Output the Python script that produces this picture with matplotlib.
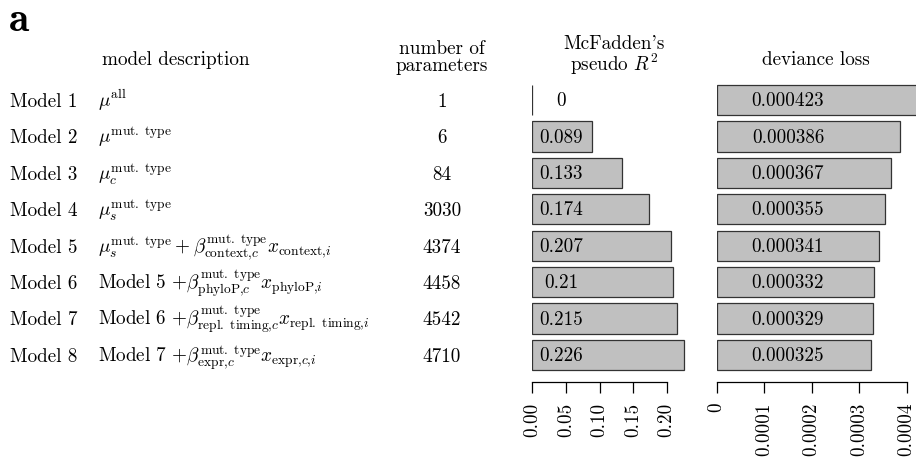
import matplotlib
matplotlib.use("Agg")
import matplotlib.pyplot as plt

plt.rcParams["font.family"] = ["cmr10"]
plt.rcParams["mathtext.fontset"] = "cm"
plt.rcParams["axes.unicode_minus"] = False
plt.rcParams["axes.formatter.use_mathtext"] = True

# ---- data -------------------------------------------------------------
models = [f"Model {i}" for i in range(1, 9)]
descriptions = [
    r"$\mu^{\mathrm{all}}$",
    r"$\mu^{\mathrm{mut.\ type}}$",
    r"$\mu_c^{\mathrm{mut.\ type}}$",
    r"$\mu_s^{\mathrm{mut.\ type}}$",
    r"$\mu_s^{\mathrm{mut.\ type}} + \beta_{\mathrm{context}{,}c}^{\mathrm{mut.\ type}} x_{\mathrm{context}{,}i}$",
    r"Model 5 ${+}\beta_{\mathrm{phyloP}{,}c}^{\mathrm{mut.\ type}} x_{\mathrm{phyloP}{,}i}$",
    r"Model 6 ${+}\beta_{\mathrm{repl.\ timing}{,}c}^{\mathrm{mut.\ type}} x_{\mathrm{repl.\ timing}{,}i}$",
    r"Model 7 ${+}\beta_{\mathrm{expr}{,}c}^{\mathrm{mut.\ type}} x_{\mathrm{expr}{,}c{,}i}$",
]
n_params = [1, 6, 84, 3030, 4374, 4458, 4542, 4710]
pseudo_r2 = [0, 0.089, 0.133, 0.174, 0.207, 0.21, 0.215, 0.226]
deviance = [0.000423, 0.000386, 0.000367, 0.000355, 0.000341, 0.000332, 0.000329, 0.000325]

r2_ticks = [0.0, 0.05, 0.10, 0.15, 0.20]
r2_ticklabels = ["0.00", "0.05", "0.10", "0.15", "0.20"]
dev_ticks = [0, 0.0001, 0.0002, 0.0003, 0.0004]
dev_ticklabels = ["0", "0.0001", "0.0002", "0.0003", "0.0004"]

# ---- layout (pixels) ----------------------------------------------------
W, H = 916, 465
FS = 13.8
row_top, row_step = 100.0, 36.43
n = len(models)


def P(x, y):
    return x / W, 1 - y / H


fig = plt.figure(figsize=(W / 100, H / 100), dpi=100)

fig.text(*P(9, 31), "a", fontfamily="cmb10", fontsize=30, ha="left", va="baseline")

# column headers (two-line headers are anchored on the baseline of their last line)
fig.text(*P(176, 65), "model description", fontsize=FS, ha="center", va="baseline")
fig.text(*P(442, 71), "number of\nparameters", fontsize=FS, ha="center",
         va="baseline", linespacing=0.92)
fig.text(*P(614, 71), "McFadden's\n" + r"pseudo $R^2$", fontsize=FS, ha="center",
         va="baseline", linespacing=0.92)
fig.text(*P(816, 65), "deviance loss", fontsize=FS, ha="center", va="baseline")

# table rows
for i, (m, d, k) in enumerate(zip(models, descriptions, n_params)):
    yb = row_top + i * row_step + 6.8
    fig.text(*P(10, yb), m, fontsize=FS, ha="left", va="baseline")
    fig.text(*P(98, yb), d, fontsize=FS, ha="left", va="baseline")
    fig.text(*P(442, yb), str(k), fontsize=FS, ha="center", va="baseline")

# bar panels
ax_top = row_top - row_step / 2
ax_bot = row_top + (n - 0.5) * row_step
ax_h = (ax_bot - ax_top) / H


def bar_panel(x0_px, px_per_unit, xmax, values, ticks, ticklabels, label_x, spine_max):
    left = x0_px / W
    width = xmax * px_per_unit / W
    ax = fig.add_axes([left, 1 - ax_bot / H, width, ax_h])
    ypos = list(range(n))
    ax.barh(ypos, values, height=0.83, color="#c0c0c0", edgecolor="#333333",
            linewidth=0.9)
    ax.set_xlim(0, xmax)
    ax.set_ylim(n - 0.5, -0.5)
    for y, v in zip(ypos, values):
        ax.text(label_x, y + 0.17, f"{v:g}", fontsize=FS, ha="center", va="baseline")
    for s in ("top", "right", "left"):
        ax.spines[s].set_visible(False)
    ax.spines["bottom"].set_position(("outward", 6.3))
    ax.spines["bottom"].set_bounds(0, spine_max)
    ax.spines["bottom"].set_linewidth(0.9)
    ax.set_yticks([])
    ax.set_xticks(ticks)
    ax.set_xticklabels(ticklabels, rotation=90, fontsize=FS)
    ax.tick_params(axis="x", direction="out", length=8, width=0.9, pad=7)
    ax.patch.set_visible(False)
    return ax


bar_panel(532.3, 672, 0.25, pseudo_r2, r2_ticks, r2_ticklabels, 0.0432, 0.2)
bar_panel(716.7, 475000, 0.00042, deviance, dev_ticks, dev_ticklabels, 0.000150, 0.0004)

fig.savefig("out.png", dpi=100)
